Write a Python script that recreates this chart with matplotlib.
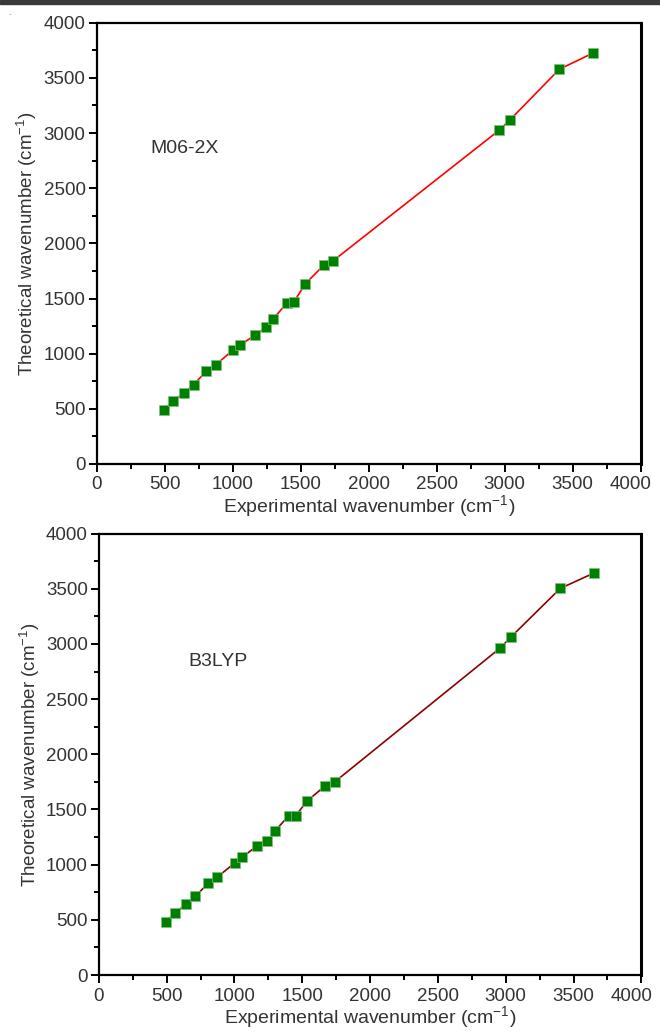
import matplotlib
matplotlib.use("Agg")
import matplotlib.pyplot as plt
import matplotlib.transforms as mtransforms
from matplotlib.patches import Rectangle
from matplotlib.ticker import MultipleLocator

plt.rcParams["font.family"] = ["Liberation Sans", "DejaVu Sans"]
plt.rcParams["mathtext.fontset"] = "custom"
plt.rcParams["mathtext.rm"] = "Liberation Sans"
plt.rcParams["mathtext.it"] = "Liberation Sans"

# experimental bands (cm-1), shared by both methods
experimental = [494, 562, 643, 712, 805, 874, 1001, 1055, 1165, 1243, 1295,
                1399, 1450, 1533, 1669, 1740, 2961, 3038, 3402, 3650]
m062x = [489, 571, 646, 719, 840, 897, 1031, 1079, 1167, 1239, 1312,
         1459, 1468, 1632, 1801, 1843, 3027, 3118, 3578, 3725]
b3lyp = [483, 562, 641, 713, 831, 888, 1015, 1066, 1169, 1217, 1302,
         1441, 1441, 1574, 1715, 1751, 2965, 3062, 3503, 3642]

ticks = [0, 500, 1000, 1500, 2000, 2500, 3000, 3500, 4000]
TXT = "#333333"
FS = 13.5

fig = plt.figure(figsize=(6.6, 10.32), dpi=100)
# thin dark rule along the top edge
fig.patches.append(Rectangle((0, 0.9965), 1, 0.0035, transform=fig.transFigure,
                             color="#3a3a3a", zorder=5))
fig.text(0.012, 0.985, ".", fontsize=6, color="#555555")

panels = [
    ([0.1465, 0.5504, 0.8242, 0.4276], m062x, "red", "M06-2X", (392, 2864)),
    ([0.1498, 0.0552, 0.8220, 0.4278], b3lyp, "#8b0000", "B3LYP", (657, 2845)),
]

for rect, theo, lc, name, pos in panels:
    ax = fig.add_axes(rect)
    ax.plot(experimental, theo, color=lc, lw=1.2, zorder=2)
    ax.plot(experimental, theo, ls="none", marker="s", ms=7.2, mfc="#008000",
            mec="#7fbf7f", mew=0.5, zorder=3)
    ax.set_xlim(0, 4000)
    ax.set_ylim(0, 4000)
    ax.set_xticks(ticks)
    ax.set_yticks(ticks)
    ax.xaxis.set_minor_locator(MultipleLocator(250))
    ax.yaxis.set_minor_locator(MultipleLocator(250))
    ax.tick_params(which="major", direction="out", length=6, width=1.4,
                   labelsize=FS, labelcolor=TXT, pad=2)
    ax.tick_params(which="minor", direction="out", length=3.5, width=1.4)
    ax.tick_params(axis="x", which="major", pad=3)
    for side in ["left", "bottom", "top"]:
        ax.spines[side].set_linewidth(1.6)
    ax.spines["right"].set_linewidth(2.2)
    ax.set_xlabel(r"Experimental wavenumber (cm$^{\mathregular{-1}}$)",
                  fontsize=FS + 0.5, color=TXT, labelpad=0)
    ax.set_ylabel(r"Theoretical wavenumber (cm$^{\mathregular{-1}}$)",
                  fontsize=FS, color=TXT, labelpad=3)
    ax.text(pos[0], pos[1], name, fontsize=FS + 0.5, color=TXT, va="center")

    # pull the last x label in from the figure edge
    last = ax.get_xticklabels()[-1]
    last.set_transform(last.get_transform() +
                       mtransforms.ScaledTranslation(-0.1, 0, fig.dpi_scale_trans))

fig.savefig("out.png", dpi=100)
